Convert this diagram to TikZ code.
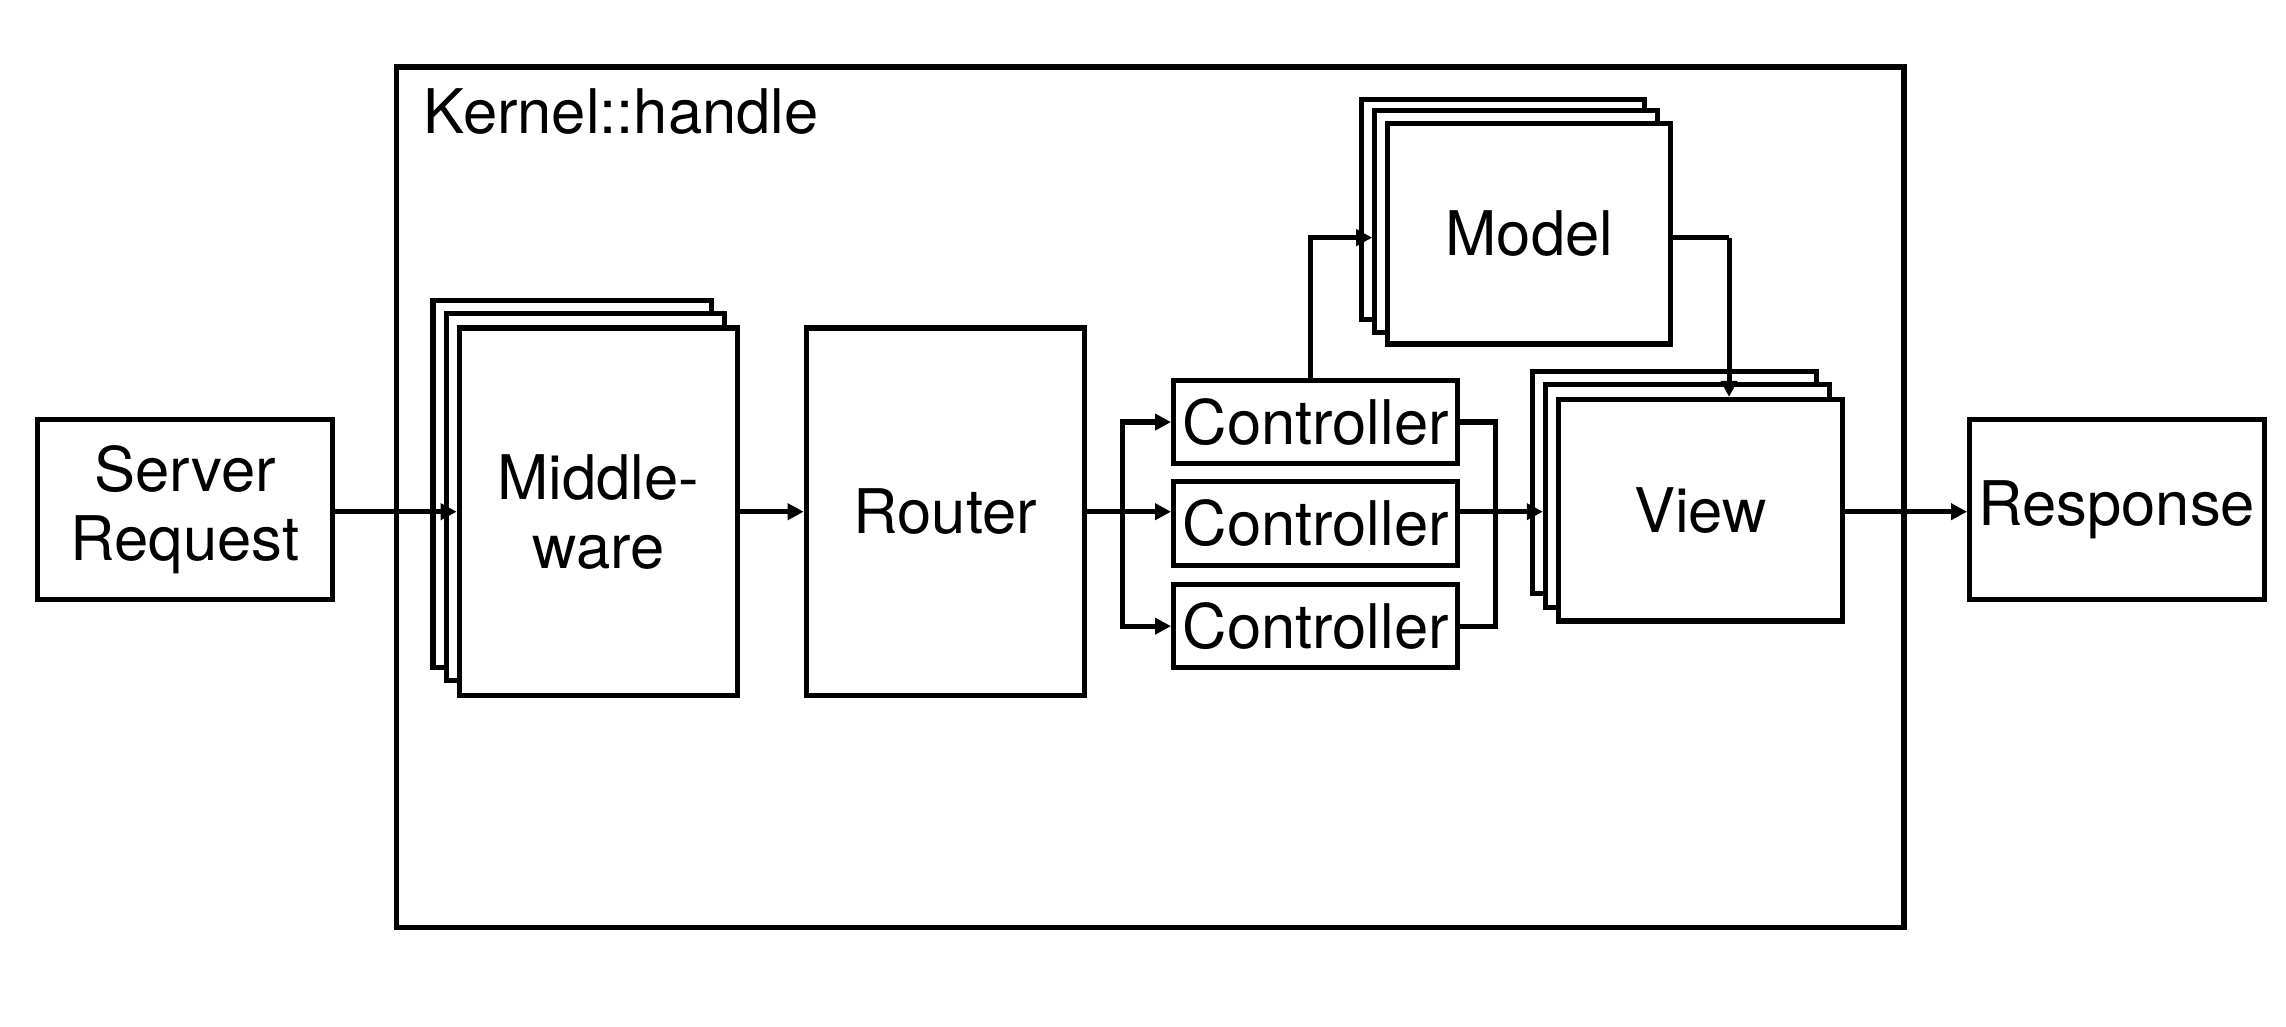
\documentclass[tikz,border=0pt]{standalone}
\usepackage{fontspec}
\setmainfont{TeX Gyre Heros}
\usetikzlibrary{fit,arrows.meta}
\tikzset{
  box/.style={draw,line width=1pt,fill=white,inner sep=0pt},
  lbl/.style={font=\fontsize{12}{13.5}\selectfont,align=center},
  arr/.style={line width=1pt,-{Triangle[length=1.1mm,width=1.1mm]}},
  ln/.style={line width=1pt}
}
\newcommand{\bx}[6]{\node[box,fit={(#2,#3)(#4,#5)},label={[lbl]center:#6}] (#1) {};}
\begin{document}
\begin{tikzpicture}[x=0.01cm,y=-0.01cm]
\useasboundingbox (0,0) rectangle (1568,704);
\bx{kernel}{272}{46}{1306}{636}{}
\node[lbl,anchor=north west,inner sep=0pt] (ktitle) at (290,60) {Kernel::handle};
\bx{sr}{26}{288}{228}{411}{Server\\Request}
\bx{mw3}{297}{206}{488}{458}{}
\bx{mw2}{306}{215}{497}{467}{}
\bx{mw}{315}{225}{506}{477}{Middle-\\ware}
\bx{router}{553}{225}{744}{477}{Router}
\bx{c1}{805}{261}{1000}{318}{Controller}
\bx{c2}{805}{330}{1000}{388}{Controller}
\bx{c3}{805}{401}{1000}{458}{Controller}
\bx{m3}{934}{68}{1128}{219}{}
\bx{m2}{943}{76}{1137}{228}{}
\bx{model}{952}{85}{1146}{236}{Model}
\bx{v3}{1051}{255}{1246}{407}{}
\bx{v2}{1060}{264}{1255}{417}{}
\bx{view}{1069}{274}{1264}{426}{View}
\bx{resp}{1351}{288}{1553}{411}{Response}
\coordinate (sp) at (770,351);
\coordinate (jn) at (1026,351);
\coordinate (mc) at (1186,163);
\draw[arr] (sr.east |- 0,351) -- (mw.west |- 0,351);
\draw[arr] (mw.east |- 0,351) -- (router.west |- 0,351);
\draw[arr] (router.east |- 0,351) -- (c2.west |- 0,351);
\draw[arr] (sp) |- (c1.west);
\draw[arr] (sp) |- (c3.west);
\draw[ln] (c1.east) -| (jn);
\draw[ln] (c3.east) -| (jn);
\draw[arr] (c2.east |- 0,351) -- (v2.west |- 0,351);
\draw[arr] (c1.north -| 899,0) |- (m2.west |- 0,163);
\draw[ln] (model.east |- 0,163) -- (mc);
\draw[arr] (mc) -- (view.north -| mc);
\draw[arr] (view.east |- 0,351) -- (resp.west |- 0,351);
\end{tikzpicture}
\end{document}
